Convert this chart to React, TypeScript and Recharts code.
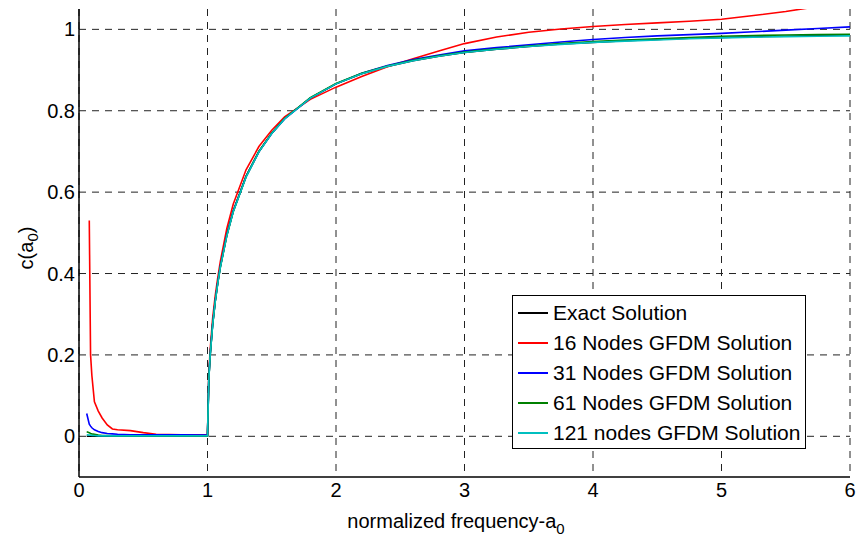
import { LineChart, Line, XAxis, YAxis, CartesianGrid } from 'recharts';

// normalized frequency a0
const freq = [
  0.06, 0.08, 0.09, 0.1, 0.12, 0.15, 0.18, 0.22, 0.26, 0.3,
  0.4, 0.5, 0.6, 0.8, 1.0, 1.01, 1.02, 1.04, 1.06, 1.08,
  1.1, 1.15, 1.2, 1.3, 1.4, 1.5, 1.6, 1.8, 2.0, 2.2,
  2.4, 2.6, 2.8, 3.0, 3.25, 3.5, 3.75, 4.0, 4.25, 4.5,
  4.75, 5.0, 5.25, 5.5, 5.75, 6.0,
];

const exact = [
  0, 0, 0, 0, 0, 0, 0, 0, 0, 0,
  0, 0, 0, 0, 0, 0.14, 0.197, 0.275, 0.332, 0.378,
  0.417, 0.494, 0.553, 0.639, 0.7, 0.745, 0.781, 0.831, 0.866, 0.891,
  0.909, 0.923, 0.934, 0.943, 0.951, 0.958, 0.964, 0.968, 0.972, 0.975,
  0.978, 0.98, 0.982, 0.983, 0.985, 0.986,
];

const nodes16 = [
  null, 0.53, 0.2, 0.15, 0.085, 0.062, 0.045, 0.028, 0.018, 0.016,
  0.014, 0.009, 0.005, 0.004, 0.004, 0.15, 0.21, 0.29, 0.345, 0.39,
  0.43, 0.51, 0.57, 0.655, 0.712, 0.752, 0.785, 0.828, 0.858, 0.884,
  0.908, 0.928, 0.947, 0.965, 0.981, 0.993, 1.001, 1.007, 1.012, 1.016,
  1.02, 1.025, 1.034, 1.044, 1.056, 1.07,
];

const nodes31 = [
  0.056, 0.03, 0.025, 0.021, 0.016, 0.012, 0.009, 0.007, 0.006, 0.005,
  0.004, 0.004, 0.004, 0.004, 0.003, 0.14, 0.198, 0.276, 0.333, 0.379,
  0.418, 0.495, 0.553, 0.638, 0.699, 0.744, 0.78, 0.831, 0.866, 0.892,
  0.911, 0.926, 0.937, 0.947, 0.955, 0.962, 0.969, 0.975, 0.98, 0.984,
  0.987, 0.99, 0.994, 0.998, 1.002, 1.006,
];

const nodes61 = [
  0.011, 0.009, 0.007, 0.006, 0.005, 0.003, 0.002, 0.002, 0.001, 0.001,
  0.001, 0.001, 0.001, 0.001, 0.001, 0.139, 0.196, 0.274, 0.331, 0.377,
  0.416, 0.493, 0.552, 0.638, 0.7, 0.745, 0.781, 0.832, 0.867, 0.892,
  0.91, 0.924, 0.935, 0.944, 0.952, 0.959, 0.965, 0.97, 0.974, 0.977,
  0.98, 0.983, 0.985, 0.986, 0.987, 0.988,
];

const nodes121 = [
  0.004, 0.003, 0.003, 0.002, 0.002, 0.001, 0.001, 0.001, 0.001, 0.001,
  0.001, 0.001, 0.001, 0.001, 0.001, 0.138, 0.195, 0.273, 0.33, 0.376,
  0.415, 0.492, 0.551, 0.637, 0.699, 0.744, 0.78, 0.831, 0.866, 0.891,
  0.909, 0.923, 0.934, 0.943, 0.951, 0.958, 0.963, 0.968, 0.971, 0.974,
  0.977, 0.979, 0.981, 0.982, 0.983, 0.984,
];

const xTicks = [0, 1, 2, 3, 4, 5, 6];
const yTicks = [0, 0.2, 0.4, 0.6, 0.8, 1];

const series = [
  { key: 'exact', name: 'Exact Solution', color: '#000000' },
  { key: 'n16', name: '16 Nodes GFDM Solution', color: '#ff0000' },
  { key: 'n31', name: '31 Nodes GFDM Solution', color: '#0000ff' },
  { key: 'n61', name: '61 Nodes GFDM Solution', color: '#008000' },
  { key: 'n121', name: '121 nodes GFDM Solution', color: '#00bfbf' },
];

const data = freq.map((a, i) => ({
  a,
  exact: exact[i],
  n16: nodes16[i],
  n31: nodes31[i],
  n61: nodes61[i],
  n121: nodes121[i],
}));

const FONT = '"Liberation Sans", Arial, Helvetica, sans-serif';
const tickStyle = { fill: '#000', fontSize: 20, fontFamily: FONT };

// legend box sits inside the plot, lower right
function LegendBox() {
  return (
    <div
      style={{
        position: 'absolute',
        left: 512,
        top: 295,
        width: 294,
        height: 154,
        boxSizing: 'border-box',
        border: '1.5px solid #000',
        background: '#fff',
        paddingTop: 2,
        fontFamily: FONT,
        fontSize: 21,
        color: '#000',
      }}
    >
      {series.map((s) => (
        <div key={s.key} style={{ height: 30, display: 'flex', alignItems: 'center' }}>
          <div style={{ width: 30, height: 2, background: s.color, marginLeft: 5, marginRight: 5 }} />
          <span style={{ whiteSpace: 'nowrap', lineHeight: '30px' }}>{s.name}</span>
        </div>
      ))}
    </div>
  );
}

function YTitle() {
  return (
    <text
      x={33}
      y={248}
      transform="rotate(-90, 33, 248)"
      textAnchor="middle"
      fill="#000"
      fontSize={20}
      fontFamily={FONT}
    >
      c(a<tspan dy={5} fontSize={15}>0</tspan><tspan dy={-5}>)</tspan>
    </text>
  );
}

function XTitle() {
  return (
    <text x={456} y={528} textAnchor="middle" fill="#000" fontSize={20} fontFamily={FONT}>
      normalized frequency-a<tspan dy={6} fontSize={15}>0</tspan>
    </text>
  );
}

export default function App() {
  return (
    <div style={{ position: 'absolute', left: 0, top: 0, width: 858, height: 539, background: '#fff', fontFamily: FONT }}>
      <LineChart width={858} height={539} data={data} margin={{ top: 9, right: 8, bottom: 0, left: 0 }}>
        <CartesianGrid stroke="#222" strokeDasharray="7 6" horizontalValues={yTicks} verticalValues={xTicks} />
        <XAxis
          dataKey="a"
          type="number"
          domain={[0, 6]}
          ticks={xTicks}
          allowDataOverflow
          height={62}
          tickSize={0}
          tickMargin={6}
          tick={tickStyle}
          axisLine={{ stroke: '#000', strokeWidth: 1.5 }}
          label={<XTitle />}
        />
        <XAxis
          xAxisId="top"
          orientation="top"
          type="number"
          domain={[0, 6]}
          height={0}
          tick={false}
          axisLine={{ stroke: '#000', strokeWidth: 1.5 }}
        />
        <YAxis
          type="number"
          domain={[-0.1, 1.05]}
          ticks={yTicks}
          allowDataOverflow
          width={79}
          tickSize={0}
          tickMargin={4}
          tick={tickStyle}
          axisLine={{ stroke: '#000', strokeWidth: 1.5 }}
          label={<YTitle />}
        />
        <YAxis
          yAxisId="right"
          orientation="right"
          type="number"
          domain={[-0.1, 1.05]}
          width={0}
          tick={false}
          axisLine={{ stroke: '#000', strokeWidth: 1.5 }}
        />
        {series.map((s) => (
          <Line
            key={s.key}
            dataKey={s.key}
            name={s.name}
            type="linear"
            stroke={s.color}
            strokeWidth={1.6}
            dot={false}
            activeDot={false}
            isAnimationActive={false}
          />
        ))}
      </LineChart>
      <LegendBox />
    </div>
  );
}
